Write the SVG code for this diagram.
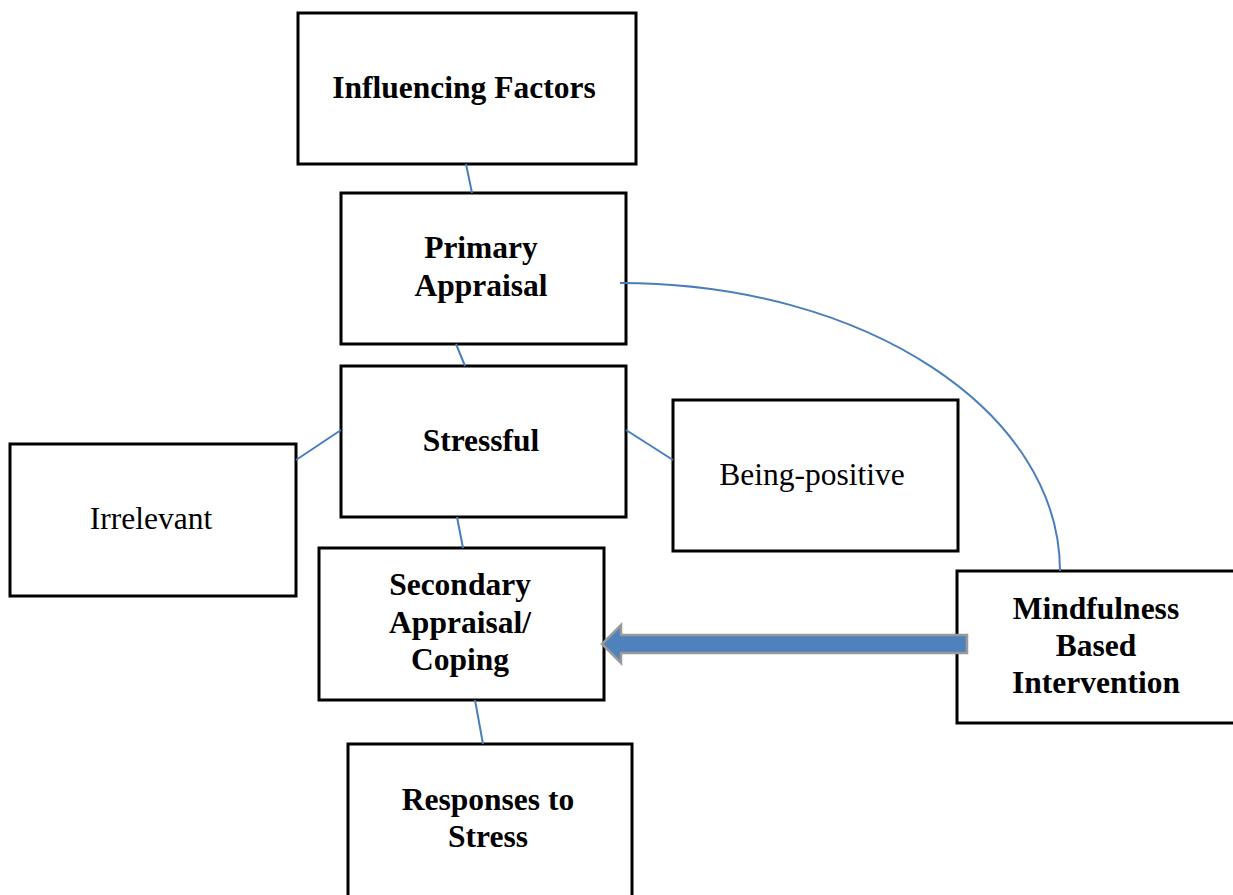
<svg xmlns="http://www.w3.org/2000/svg" width="1233" height="895" viewBox="0 0 1233 895">
<style>
.box{fill:#fff;stroke:#000;stroke-width:3}
.t{font-family:"Liberation Serif","Times New Roman",serif;font-size:31.5px;fill:#000;text-anchor:middle}
.b{font-weight:bold}
.c{fill:none;stroke:#4a7ebb;stroke-width:2}
</style>
<rect width="1233" height="895" fill="#fff"/>
<g id="influencing">
<rect class="box" x="298" y="13" width="338" height="151"/>
<text class="t b" x="464" y="98">Influencing Factors</text>
</g>
<g id="primary">
<rect class="box" x="341" y="193" width="285" height="151"/>
<text class="t b" x="481" y="258">Primary</text>
<text class="t b" x="481" y="296">Appraisal</text>
</g>
<g id="stressful">
<rect class="box" x="341" y="366" width="285" height="151"/>
<text class="t b" x="481" y="451">Stressful</text>
</g>
<g id="irrelevant">
<rect class="box" x="10" y="444" width="286" height="152"/>
<text class="t" x="151" y="529">Irrelevant</text>
</g>
<g id="being-positive">
<rect class="box" x="673" y="400" width="285" height="151"/>
<text class="t" x="812" y="485">Being-positive</text>
</g>
<g id="secondary">
<rect class="box" x="319" y="548" width="285" height="152"/>
<text class="t b" x="460" y="595">Secondary</text>
<text class="t b" x="460" y="633">Appraisal/</text>
<text class="t b" x="460" y="670">Coping</text>
</g>
<g id="mindfulness">
<rect class="box" x="957" y="571" width="280" height="152"/>
<text class="t b" x="1096" y="619">Mindfulness</text>
<text class="t b" x="1096" y="656">Based</text>
<text class="t b" x="1096" y="693">Intervention</text>
</g>
<g id="responses">
<rect class="box" x="348" y="744" width="284" height="160"/>
<text class="t b" x="488" y="810">Responses to</text>
<text class="t b" x="488" y="847">Stress</text>
</g>
<g id="connectors">
<line class="c" x1="466" y1="164" x2="472" y2="193"/>
<line class="c" x1="456" y1="344" x2="465" y2="366"/>
<line class="c" x1="341" y1="430" x2="296" y2="460"/>
<line class="c" x1="626" y1="430" x2="673" y2="460"/>
<line class="c" x1="457" y1="517" x2="463" y2="548"/>
<line class="c" x1="475" y1="700" x2="483" y2="744"/>
<path class="c" d="M620,283 C866,283 1060,412 1060,571"/>
<polygon points="967,635 621,635 621,625 602,644 621,663 621,653 967,653" fill="#4f81bd" stroke="#999" stroke-width="2.5"/>
</g>
</svg>
